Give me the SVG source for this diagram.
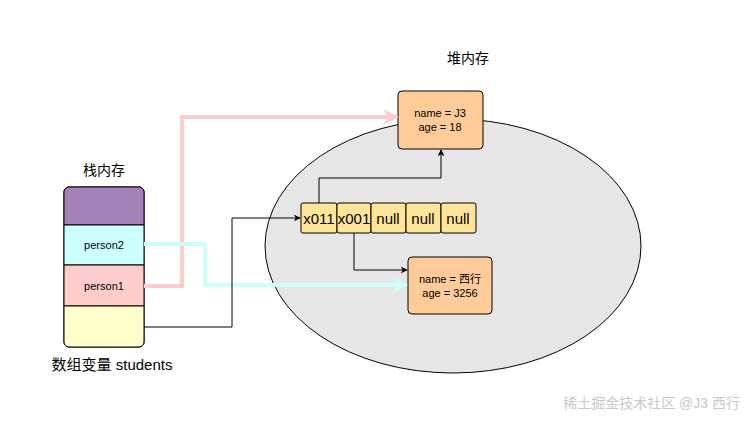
<svg xmlns="http://www.w3.org/2000/svg" width="756" height="421" viewBox="0 0 756 421">
<style>
text{font-family:"Liberation Sans","Noto Sans CJK SC",sans-serif;fill:#000}
.cell{fill:#ffe599;stroke:#000;stroke-width:1}
.obj{fill:#ffcc99;stroke:#000;stroke-width:1}
.w{fill:none;stroke:#000;stroke-width:1}
</style>
<defs>
<marker id="a" viewBox="0 0 10 10" refX="9" refY="5" markerWidth="7" markerHeight="7" orient="auto"><path d="M0,0 L10,5 L0,10 L3,5z" fill="#000"/></marker>
<marker id="ap" viewBox="0 0 10 10" refX="8" refY="5" markerWidth="4" markerHeight="4" orient="auto"><path d="M0,0 L10,5 L0,10 L3,5z" fill="#ffcccc"/></marker>
<marker id="ac" viewBox="0 0 10 10" refX="8" refY="5" markerWidth="4" markerHeight="4" orient="auto"><path d="M0,0 L10,5 L0,10 L3,5z" fill="#ccffff"/></marker>
</defs>
<rect width="756" height="421" fill="#fff"/>
<g id="heap"><ellipse cx="453" cy="246" rx="188" ry="127" fill="#e6e6e6" stroke="#000"/><text x="468" y="63" font-size="14" text-anchor="middle">堆内存</text></g>
<g id="stack">
<text x="104" y="175" font-size="14" text-anchor="middle">栈内存</text>
<rect x="64" y="187" width="80" height="160" rx="5" fill="#fff" stroke="#000"/>
<path d="M64,225 V192 a5,5 0 0 1 5,-5 H139 a5,5 0 0 1 5,5 V225z" fill="#a680b8" stroke="#000"/>
<rect x="64" y="225" width="80" height="40" fill="#ccffff" stroke="#000"/>
<text x="104" y="249" font-size="11" text-anchor="middle">person2</text>
<rect x="64" y="265" width="80" height="41" fill="#ffcccc" stroke="#000"/>
<text x="104" y="290" font-size="11" text-anchor="middle">person1</text>
<path d="M64,306 H144 V342 a5,5 0 0 1 -5,5 H69 a5,5 0 0 1 -5,-5z" fill="#ffffcc" stroke="#000"/>
<text x="112" y="370" font-size="15" text-anchor="middle">数组变量 students</text>
</g>
<g id="array" font-size="15">
<rect class="cell" x="301" y="203" width="36" height="30" rx="2"/><text x="319" y="224" text-anchor="middle">x011</text>
<rect class="cell" x="337" y="203" width="34" height="30" rx="2"/><text x="354" y="224" text-anchor="middle">x001</text>
<rect class="cell" x="371" y="203" width="35" height="30" rx="2"/><text x="388" y="224" text-anchor="middle">null</text>
<rect class="cell" x="406" y="203" width="35" height="30" rx="2"/><text x="423" y="224" text-anchor="middle">null</text>
<rect class="cell" x="441" y="203" width="35" height="30" rx="2"/><text x="458" y="224" text-anchor="middle">null</text>
</g>
<g id="obj1"><rect class="obj" x="398" y="91" width="85" height="58" rx="4"/><text x="440" y="117" font-size="11" text-anchor="middle">name = J3</text><text x="440" y="131" font-size="11" text-anchor="middle">age = 18</text></g>
<g id="obj2"><rect class="obj" x="408" y="257" width="84" height="57" rx="4"/><text x="450" y="283" font-size="11" text-anchor="middle">name = 西行</text><text x="450" y="297" font-size="11" text-anchor="middle">age = 3256</text></g>
<g id="connectors">
<path d="M144,286 H182 V117 H396" fill="none" stroke="#ffcccc" stroke-width="4" marker-end="url(#ap)"/>
<path d="M144,244 H205 V285 H405" fill="none" stroke="#ccffff" stroke-width="4" marker-end="url(#ac)"/>
<path class="w" d="M144,327 H232 V218 H300" marker-end="url(#a)"/>
<path class="w" d="M319,203 V178 H441 V150" marker-end="url(#a)"/>
<path class="w" d="M354,233 V270 H407" marker-end="url(#a)"/>
</g>
<text x="740" y="408" font-size="14" text-anchor="end" style="fill:#c8c8c8">稀土掘金技术社区 @J3 西行</text>
</svg>
